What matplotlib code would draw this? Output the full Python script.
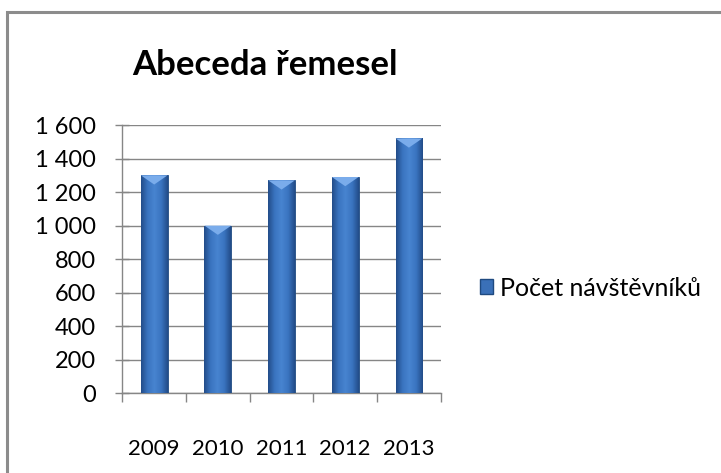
import numpy as np
import matplotlib
matplotlib.use("Agg")
import matplotlib.pyplot as plt
from matplotlib.patches import Rectangle, Polygon
from matplotlib.colors import LinearSegmentedColormap

years = ["2009", "2010", "2011", "2012", "2013"]
visitors = [1300, 1000, 1270, 1290, 1520]
series_name = "Počet návštěvníků"
title = "Abeceda řemesel"
yticks = [0, 200, 400, 600, 800, 1000, 1200, 1400, 1600]

plt.rcParams["font.family"] = ["Lato", "DejaVu Sans"]

fig = plt.figure(figsize=(7.21, 4.73), dpi=100)
# outer chart frame
fig.patches.append(Rectangle((7 / 721, -0.1), 1.2, 1 - 12 / 473 + 0.1, transform=fig.transFigure,
                             fill=False, edgecolor="#8c8c8c", linewidth=2.2))

ax = fig.add_axes([0.1697, 0.1685, 0.4416, 0.5672])
x = np.arange(len(years))
bars = ax.bar(x, visitors, width=0.42, color="#3a70b8", edgecolor="#1f4a80", linewidth=0.6, zorder=3)

cmap = LinearSegmentedColormap.from_list("barblue", ["#224c88", "#3a74c0", "#4784d0", "#3a74c0", "#224c88"])
grad = np.linspace(0, 1, 256).reshape(1, -1)
for b in bars:
    x0, y0, w, h = b.get_x(), b.get_y(), b.get_width(), b.get_height()
    im = ax.imshow(grad, extent=[x0, x0 + w, y0, y0 + h], aspect="auto", cmap=cmap, zorder=3.5)
    im.set_clip_path(b)
    # light bevel at top of bar
    tri = Polygon([[x0, y0 + h], [x0 + w, y0 + h], [x0 + w / 2, y0 + h - 55]], closed=True,
                  facecolor="#7aaceb", edgecolor="none", zorder=4)
    ax.add_patch(tri)

ax.set_xlim(-0.5, len(years) - 0.5)
ax.set_ylim(0, 1600)
ax.set_yticks(yticks)
ax.set_yticklabels([f"{v:,}".replace(",", " ") for v in yticks], fontsize=17)
ax.set_xticks(x)
ax.set_xticklabels(years, fontsize=16)
ax.set_xticks(np.arange(-0.5, len(years)), minor=True)
ax.tick_params(axis="x", which="major", length=0, pad=33)
ax.tick_params(axis="x", which="minor", length=6.5, color="#868686", width=1)
ax.tick_params(axis="y", direction="inout", length=10, color="#868686", width=1, pad=14)
ax.yaxis.grid(True, color="#868686", linewidth=1, zorder=0)
ax.set_axisbelow(True)
for s in ["top", "right"]:
    ax.spines[s].set_visible(False)
for s in ["left", "bottom"]:
    ax.spines[s].set_color("#868686")
    ax.spines[s].set_linewidth(1)

fig.text(0.368, 0.862, title, fontsize=25, fontweight="bold", ha="center", va="center")

h = Rectangle((0, 0), 1, 1, facecolor="#3a70b8", edgecolor="#1f4a80")
ax.legend([h], [series_name], loc="center left", bbox_to_anchor=(0.634, 0.391),
          bbox_transform=fig.transFigure, frameon=False, fontsize=18,
          handlelength=0.55, handleheight=0.55, handletextpad=0.25)

fig.savefig("out.png", dpi=100)
